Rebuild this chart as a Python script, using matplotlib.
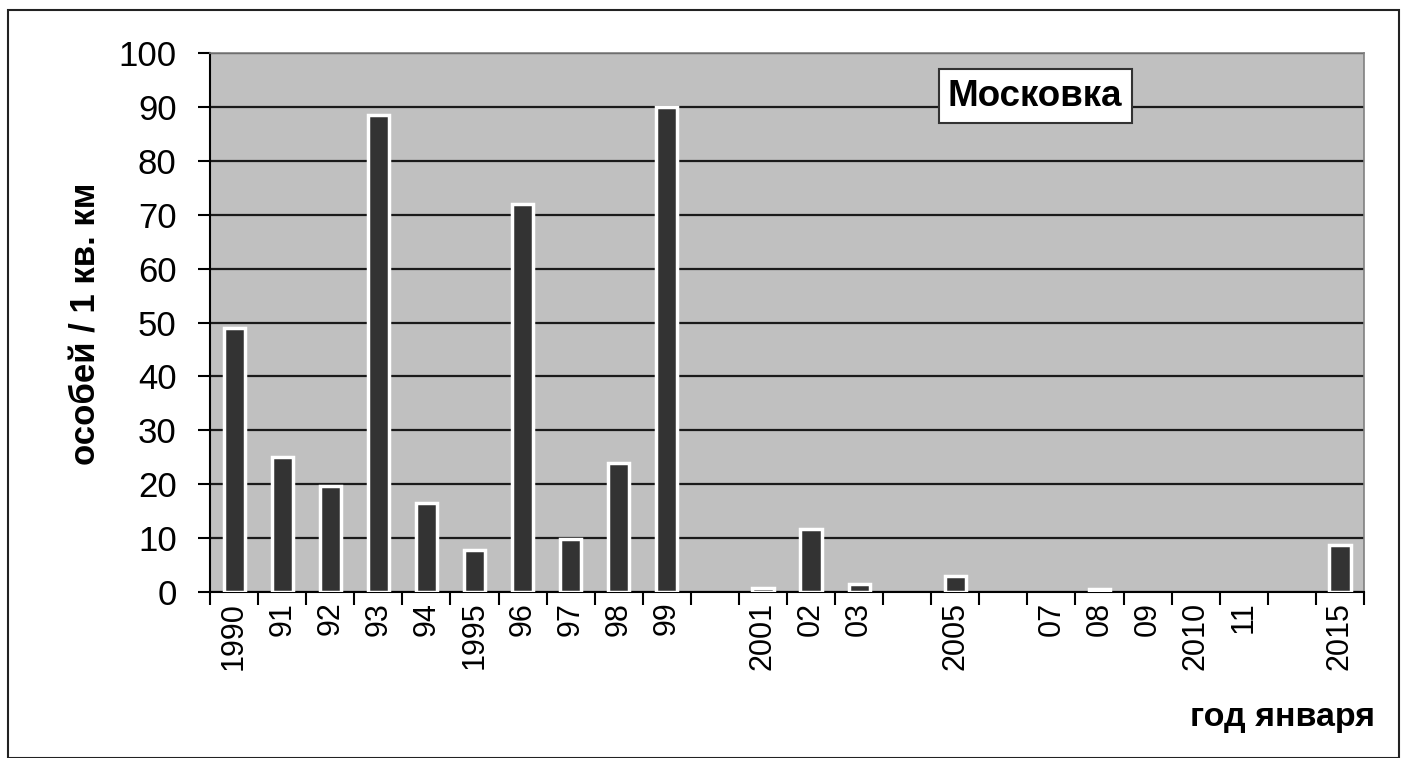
import numpy as np
import matplotlib
matplotlib.use("Agg")
import matplotlib.pyplot as plt
from matplotlib.patches import Rectangle

plt.rcParams['font.family'] = ['Liberation Sans', 'DejaVu Sans']

labels = ["1990", "91", "92", "93", "94", "1995", "96", "97", "98", "99", "",
          "2001", "02", "03", "", "2005", "", "07", "08", "09", "2010", "11", "", "2015"]
values = [49, 25, 19.7, 88.5, 16.5, 7.7, 72, 9.8, 24, 90, 0,
          0.8, 11.7, 1.5, 0, 3, 0, 0, 0.5, 0, 0, 0, 0, 8.7]

fig = plt.figure(figsize=(14.05, 7.58), dpi=100)
ax = fig.add_axes([0.1495, 0.219, 0.8213, 0.711])
ax.set_facecolor("#c0c0c0")

x = np.arange(len(labels))
vals = np.array(values, dtype=float)
shown = vals > 0
ax.set_axisbelow(True)
ax.yaxis.grid(True, color="#1a1a1a", linewidth=1.6)
ax.bar(x[shown], vals[shown], width=0.44, color="#333333", edgecolor="white",
       linewidth=2.5, zorder=3)

ax.set_xlim(-0.5, len(labels) - 0.5)
ax.set_ylim(0, 100)
ax.set_yticks(np.arange(0, 101, 10))
ax.tick_params(axis="y", labelsize=25, length=9, width=1.5, direction="out", pad=15)

ax.set_xticks(x)
ax.set_xticklabels(labels, rotation=90, fontsize=22)
ax.tick_params(axis="x", which="major", length=0, pad=7)
ax.set_xticks(np.arange(-0.5, len(labels)), minor=True)
ax.tick_params(axis="x", which="minor", length=9, width=1.5, direction="out")

for s in ["left", "bottom"]:
    ax.spines[s].set_color("black")
    ax.spines[s].set_linewidth(1.5)
for s in ["top", "right"]:
    ax.spines[s].set_color("#808080")
    ax.spines[s].set_linewidth(1.2)

fig.text(0.061, 0.573, "особей / 1 кв. км", rotation=90, fontsize=25, fontweight="bold",
         ha="center", va="center")
fig.text(0.979, 0.053, "год января", fontsize=24.5, fontweight="bold", ha="right", va="center")

ax.text(0.715, 0.920, "Московка", transform=ax.transAxes, fontsize=26.5, fontweight="bold",
        ha="center", va="center", zorder=5,
        bbox=dict(boxstyle="square,pad=0.25", facecolor="white", edgecolor="#333333", linewidth=1.5))

fig.patches.append(Rectangle((8 / 1405, 0), (1399 - 8) / 1405, (758 - 10) / 758,
                             transform=fig.transFigure, fill=False, edgecolor="#222222",
                             linewidth=1.5))

fig.savefig("out.png", dpi=100)
